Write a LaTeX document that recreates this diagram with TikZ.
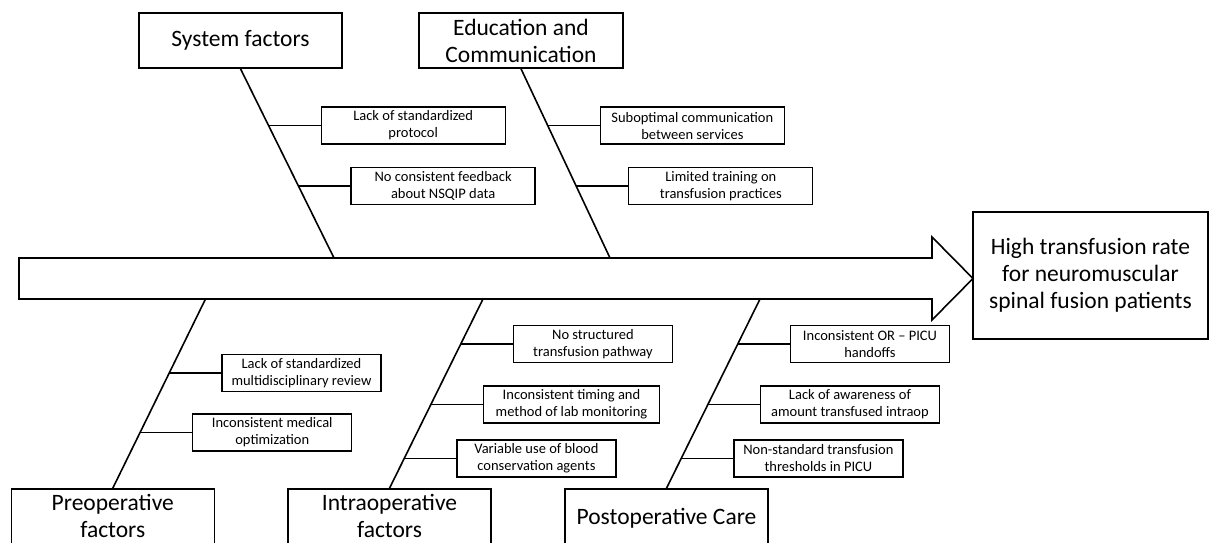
\documentclass[tikz,border=0pt]{standalone}
\usepackage{fontspec}
\setmainfont{Carlito}
\usetikzlibrary{positioning, calc}

\begin{document}
\begin{tikzpicture}[
    x=1pt, y=-1pt,
    category/.style={draw, line width=1.5pt, minimum width=203pt, minimum height=55pt, inner sep=0pt, align=center, font=\fontsize{23.5}{27}\selectfont},
    lowcat/.style={category, minimum height=60pt, text depth=6pt},
    cause/.style={draw, line width=1.3pt, minimum height=37pt, inner sep=1pt, align=center, font=\fontsize{14.5}{17}\selectfont},
    bone/.style={line width=1.6pt},
    twig/.style={line width=1.5pt},
    node distance=52pt
]
    \useasboundingbox (0,0) rectangle (1211,543);
    \clip (0,0) rectangle (1211,543);

    % Spine arrow
    \draw[bone, line join=miter] (19,258) -- (932,258) -- (932,237) -- (973,278.5) -- (932,320) -- (932,299) -- (19,299) -- cycle;

    % Effect
    \node[category, minimum width=235pt, minimum height=127pt] (effect) at (1090.5,275.5) {High transfusion rate\\for neuromuscular\\spinal fusion patients};

    % Top categories
    \node[category] (sys) at (240.5,40.5) {System factors};
    \node[category, minimum width=204pt] (edu) at (521,40.5) {Education and\\Communication};
    \coordinate (sys_end) at (334,258);
    \coordinate (edu_end) at (610,258);
    \draw[bone] (sys.south) -- (sys_end);
    \draw[bone] (edu.south) -- (edu_end);

    % Bottom categories
    \node[lowcat] (pre) at (112.75,519) {Preoperative\\factors};
    \node[lowcat] (intra) at (389.5,519) {Intraoperative\\factors};
    \node[lowcat] (post) at (666.5,519) {Postoperative Care};
    \coordinate (pre_end) at (205.5,299);
    \coordinate (intra_end) at (483,299);
    \coordinate (post_end) at (760,299);
    \draw[bone] (pre.north) -- (pre_end);
    \draw[bone] (intra.north) -- (intra_end);
    \draw[bone] (post.north) -- (post_end);

    % System factors causes
    \coordinate (s1) at ($(sys.south)!0.3!(sys_end)$);
    \coordinate (s2) at ($(sys.south)!0.62!(sys_end)$);
    \node[cause, minimum width=184pt, right=of s1] (sys_protocol) {Lack of standardized\\protocol};
    \node[cause, minimum width=184pt, right=of s2] (sys_feedback) {No consistent feedback\\about NSQIP data};
    \draw[twig] (s1) -- (sys_protocol);
    \draw[twig] (s2) -- (sys_feedback);

    % Education causes
    \coordinate (e1) at ($(edu.south)!0.3!(edu_end)$);
    \coordinate (e2) at ($(edu.south)!0.62!(edu_end)$);
    \node[cause, minimum width=184pt, right=of e1] (edu_comm) {Suboptimal communication\\between services};
    \node[cause, minimum width=184pt, right=of e2] (edu_train) {Limited training on\\transfusion practices};
    \draw[twig] (e1) -- (edu_comm);
    \draw[twig] (e2) -- (edu_train);

    % Preoperative causes
    \coordinate (p1) at ($(pre.north)!0.61!(pre_end)$);
    \coordinate (p2) at ($(pre.north)!0.295!(pre_end)$);
    \node[cause, minimum width=159pt, right=of p1] (pre_review) {Lack of standardized\\multidisciplinary review};
    \node[cause, minimum width=159pt, right=of p2] (pre_optim) {Inconsistent medical\\optimization};
    \draw[twig] (p1) -- (pre_review);
    \draw[twig] (p2) -- (pre_optim);

    % Intraoperative causes
    \coordinate (i1) at ($(intra.north)!0.763!(intra_end)$);
    \coordinate (i2) at ($(intra.north)!0.442!(intra_end)$);
    \coordinate (i3) at ($(intra.north)!0.158!(intra_end)$);
    \node[cause, minimum width=159pt, right=of i1] (intra_path) {No structured\\transfusion pathway};
    \node[cause, minimum width=176pt, right=of i2] (intra_lab) {Inconsistent timing and\\method of lab monitoring};
    \node[cause, minimum width=159pt, right=of i3] (intra_blood) {Variable use of blood\\conservation agents};
    \draw[twig] (i1) -- (intra_path);
    \draw[twig] (i2) -- (intra_lab);
    \draw[twig] (i3) -- (intra_blood);

    % Postoperative causes
    \coordinate (q1) at ($(post.north)!0.763!(post_end)$);
    \coordinate (q2) at ($(post.north)!0.442!(post_end)$);
    \coordinate (q3) at ($(post.north)!0.158!(post_end)$);
    \node[cause, minimum width=159pt, right=of q1] (post_handoff) {Inconsistent OR -- PICU\\handoffs};
    \node[cause, minimum width=179pt, right=of q2] (post_aware) {Lack of awareness of\\amount transfused intraop};
    \node[cause, minimum width=169pt, right=of q3] (post_thresh) {Non-standard transfusion\\thresholds in PICU};
    \draw[twig] (q1) -- (post_handoff);
    \draw[twig] (q2) -- (post_aware);
    \draw[twig] (q3) -- (post_thresh);

\end{tikzpicture}
\end{document}
